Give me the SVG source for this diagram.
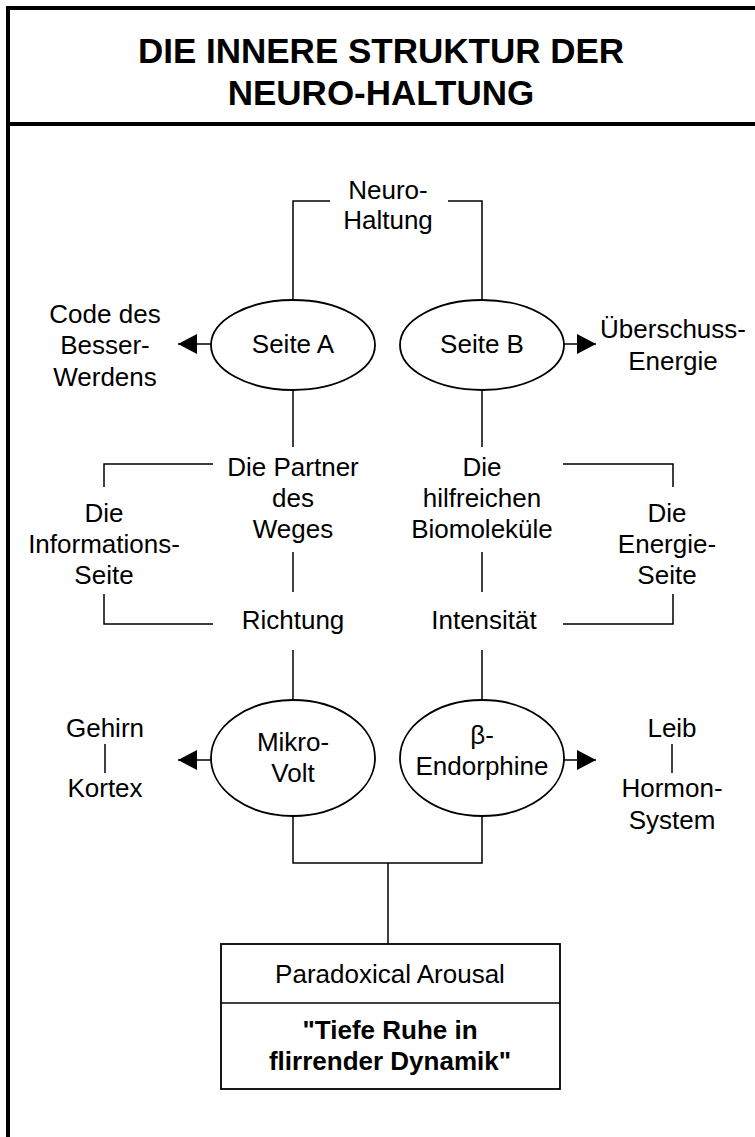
<svg xmlns="http://www.w3.org/2000/svg" width="755" height="1137" viewBox="0 0 755 1137">
  <style>
    .t { font-family: "Liberation Sans", Arial, sans-serif; font-size: 26px; fill: #000; text-anchor: middle; }
    .b { font-weight: bold; }
    .title { font-family: "Liberation Sans", Arial, sans-serif; font-size: 35px; font-weight: bold; fill: #000; text-anchor: middle; }
    .ln { fill: none; stroke: #000; stroke-width: 1.5; }
    .shape { fill: #fff; stroke: #000; stroke-width: 1.8; }
    .frame { fill: none; stroke: #000; stroke-width: 4; }
  </style>
  <defs>
    <marker id="arrow" markerWidth="20" markerHeight="20" refX="19" refY="10" orient="auto" markerUnits="userSpaceOnUse">
      <path d="M0,0 L19,10 L0,20 Z" fill="#000"/>
    </marker>
  </defs>
  <rect width="755" height="1137" fill="#fff"/>

  <!-- outer frame and title band -->
  <g id="frame">
    <path class="frame" d="M8,1137 V8 H755"/>
    <line class="frame" x1="8" y1="124" x2="755" y2="124"/>
  </g>
  <g id="title">
    <text class="title" x="381" y="63">DIE INNERE STRUKTUR DER</text>
    <text class="title" x="381" y="105">NEURO-HALTUNG</text>
  </g>

  <!-- connectors -->
  <g id="connectors">
    <path class="ln" d="M330,201 H293 V300"/>
    <path class="ln" d="M448,201 H482 V300"/>
    <line class="ln" x1="211" y1="344" x2="178" y2="344" marker-end="url(#arrow)"/>
    <line class="ln" x1="564" y1="344" x2="596" y2="344" marker-end="url(#arrow)"/>
    <line class="ln" x1="293" y1="390" x2="293" y2="447"/>
    <line class="ln" x1="482" y1="390" x2="482" y2="447"/>
    <path class="ln" d="M213,464 H104 V487"/>
    <path class="ln" d="M104,594 V624 H213"/>
    <path class="ln" d="M563,464 H673 V487"/>
    <path class="ln" d="M673,594 V624 H563"/>
    <line class="ln" x1="293" y1="552" x2="293" y2="592"/>
    <line class="ln" x1="482" y1="552" x2="482" y2="592"/>
    <line class="ln" x1="293" y1="650" x2="293" y2="701"/>
    <line class="ln" x1="482" y1="650" x2="482" y2="701"/>
    <line class="ln" x1="211" y1="760" x2="178" y2="760" marker-end="url(#arrow)"/>
    <line class="ln" x1="564" y1="760" x2="596" y2="760" marker-end="url(#arrow)"/>
    <line class="ln" x1="105" y1="744" x2="105" y2="773"/>
    <line class="ln" x1="672" y1="744" x2="672" y2="773"/>
    <path class="ln" d="M293,815 V863 H482 V815"/>
    <line class="ln" x1="388" y1="863" x2="388" y2="944"/>
  </g>

  <g id="neuro-haltung">
    <text class="t" x="388" y="199">Neuro-</text>
    <text class="t" x="388" y="229">Haltung</text>
  </g>
  <g id="seite-a">
    <ellipse class="shape" cx="293" cy="345" rx="82" ry="45"/>
    <text class="t" x="293" y="353">Seite A</text>
  </g>
  <g id="seite-b">
    <ellipse class="shape" cx="482" cy="345" rx="82" ry="45"/>
    <text class="t" x="482" y="353">Seite B</text>
  </g>
  <g id="code">
    <text class="t" x="105" y="323">Code des</text>
    <text class="t" x="105" y="354">Besser-</text>
    <text class="t" x="105" y="386">Werdens</text>
  </g>
  <g id="ueberschuss">
    <text class="t" x="673" y="338">Überschuss-</text>
    <text class="t" x="673" y="370">Energie</text>
  </g>
  <g id="partner">
    <text class="t" x="293" y="476">Die Partner</text>
    <text class="t" x="293" y="507">des</text>
    <text class="t" x="293" y="538">Weges</text>
  </g>
  <g id="biomolekuele">
    <text class="t" x="482" y="476">Die</text>
    <text class="t" x="482" y="507">hilfreichen</text>
    <text class="t" x="482" y="538">Biomoleküle</text>
  </g>
  <g id="informationsseite">
    <text class="t" x="104" y="522">Die</text>
    <text class="t" x="104" y="553">Informations-</text>
    <text class="t" x="104" y="584">Seite</text>
  </g>
  <g id="energieseite">
    <text class="t" x="667" y="522">Die</text>
    <text class="t" x="667" y="553">Energie-</text>
    <text class="t" x="667" y="584">Seite</text>
  </g>
  <g id="richtung">
    <text class="t" x="293" y="629">Richtung</text>
  </g>
  <g id="intensitaet">
    <text class="t" x="484" y="629">Intensität</text>
  </g>
  <g id="mikrovolt">
    <ellipse class="shape" cx="293" cy="758" rx="82" ry="58"/>
    <text class="t" x="293" y="751">Mikro-</text>
    <text class="t" x="293" y="782">Volt</text>
  </g>
  <g id="endorphine">
    <ellipse class="shape" cx="482" cy="758" rx="82" ry="58"/>
    <text class="t" x="482" y="744">β-</text>
    <text class="t" x="482" y="775">Endorphine</text>
  </g>
  <g id="gehirn">
    <text class="t" x="105" y="737">Gehirn</text>
    <text class="t" x="105" y="797">Kortex</text>
  </g>
  <g id="leib">
    <text class="t" x="672" y="737">Leib</text>
    <text class="t" x="672" y="797">Hormon-</text>
    <text class="t" x="672" y="829">System</text>
  </g>
  <g id="arousal">
    <rect class="shape" x="221" y="944" width="339" height="145"/>
    <line class="ln" x1="221" y1="1003" x2="560" y2="1003"/>
    <text class="t" x="390" y="983">Paradoxical Arousal</text>
    <text class="t b" x="390" y="1039">"Tiefe Ruhe in</text>
    <text class="t b" x="390" y="1070">flirrender Dynamik"</text>
  </g>
</svg>
